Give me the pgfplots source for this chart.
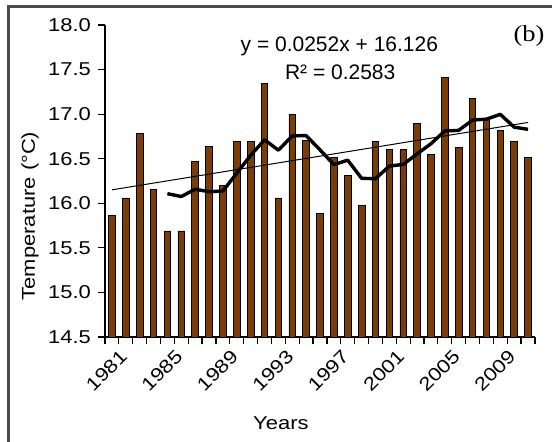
\documentclass[border=0pt]{standalone}
\usepackage{fontspec}
\setmainfont[FakeStretch=1.18]{Liberation Sans}
\newfontfamily\eqfont{Liberation Sans}
\newfontfamily\serifb[FakeStretch=1.15]{Liberation Serif}
\usepackage{pgfplots}
\pgfplotsset{compat=1.18}
\definecolor{barbrown}{RGB}{122,60,8}
\newcommand{\fsz}{\fontsize{9.3}{11}\selectfont}
\begin{document}
\begin{tikzpicture}
\useasboundingbox (0,0) rectangle (276pt,-220.5pt);
\draw[gray!60!black, line width=1.4pt] (4.3pt,-221pt) -- (4.3pt,-3.3pt) -- (277pt,-3.3pt);
\begin{axis}[
  at={(52.5pt,-168.5pt)}, anchor=south west,
  scale only axis, width=215pt, height=156pt,
  xmin=1980.5, xmax=2011.5, ymin=14.5, ymax=18.0,
  axis lines*=left,
  axis line style={black, line width=0.8pt},
  clip=false,
  font=\fsz,
  /pgf/number format/assume math mode=true,
  ytick={14.5,15.0,...,18.0},
  yticklabel style={/pgf/number format/fixed, /pgf/number format/fixed zerofill, /pgf/number format/precision=1, font=\fsz},
  xtick={1981,1985,1989,1993,1997,2001,2005,2009},
  xticklabels={1981,1985,1989,1993,1997,2001,2005,2009},
  major x tick style={draw=none},
  minor xtick={1980.5,1981.5,...,2011.5},
  minor x tick style={draw=black, line width=0.6pt},
  tick align=outside,
  major tick length=3.5pt,
  minor tick length=3.5pt,
  tick style={black, line width=0.6pt},
  xticklabel style={rotate=45, anchor=north east, inner sep=1pt, yshift=-3pt, xshift=2pt, font=\fsz},
  xlabel={Years},
  xlabel style={at={(axis description cs:0.409,0)}, anchor=center, yshift=-43pt, font=\fsz},
  ylabel={Temperature (\textdegree C)},
  ylabel style={at={(axis description cs:-0.174,0.388)}, anchor=center, font=\fsz},
]
\addplot[ybar, bar width=3.3pt, fill=barbrown, draw=black, line width=0.4pt, bar shift=0pt] coordinates {
(1981,15.86) (1982,16.06) (1983,16.78) (1984,16.16) (1985,15.69)
(1986,15.69) (1987,16.47) (1988,16.64) (1989,16.20) (1990,16.69)
(1991,16.69) (1992,17.34) (1993,16.06) (1994,17.00) (1995,16.71)
(1996,15.89) (1997,16.51) (1998,16.31) (1999,15.98) (2000,16.69)
(2001,16.60) (2002,16.60) (2003,16.90) (2004,16.55) (2005,17.41)
(2006,16.63) (2007,17.18) (2008,16.95) (2009,16.82) (2010,16.69)
(2011,16.51)
};
\addplot[black, line width=0.5pt] coordinates {(1981,16.151) (2011,16.907)};
\addplot[black, line width=1.7pt, line join=round] coordinates {
(1985,16.108) (1986,16.076) (1987,16.158) (1988,16.130) (1989,16.138)
(1990,16.338) (1991,16.538) (1992,16.712) (1993,16.596) (1994,16.756)
(1995,16.760) (1996,16.600) (1997,16.434) (1998,16.484) (1999,16.280)
(2000,16.276) (2001,16.418) (2002,16.436) (2003,16.554) (2004,16.668)
(2005,16.812) (2006,16.818) (2007,16.934) (2008,16.944) (2009,16.998)
(2010,16.854) (2011,16.830)
};
\node[font=\eqfont\fontsize{10.5}{12}\selectfont, anchor=center] at (axis description cs:0.545,0.933) {y = 0.0252x + 16.126};
\node[font=\eqfont\fontsize{10.5}{12}\selectfont, anchor=center] at (axis description cs:0.547,0.849) {R² = 0.2583};
\node[font=\serifb\fontsize{11.5}{13}\selectfont, anchor=center] at (axis description cs:0.986,0.965) {(b)};
\end{axis}
\end{tikzpicture}
\end{document}
